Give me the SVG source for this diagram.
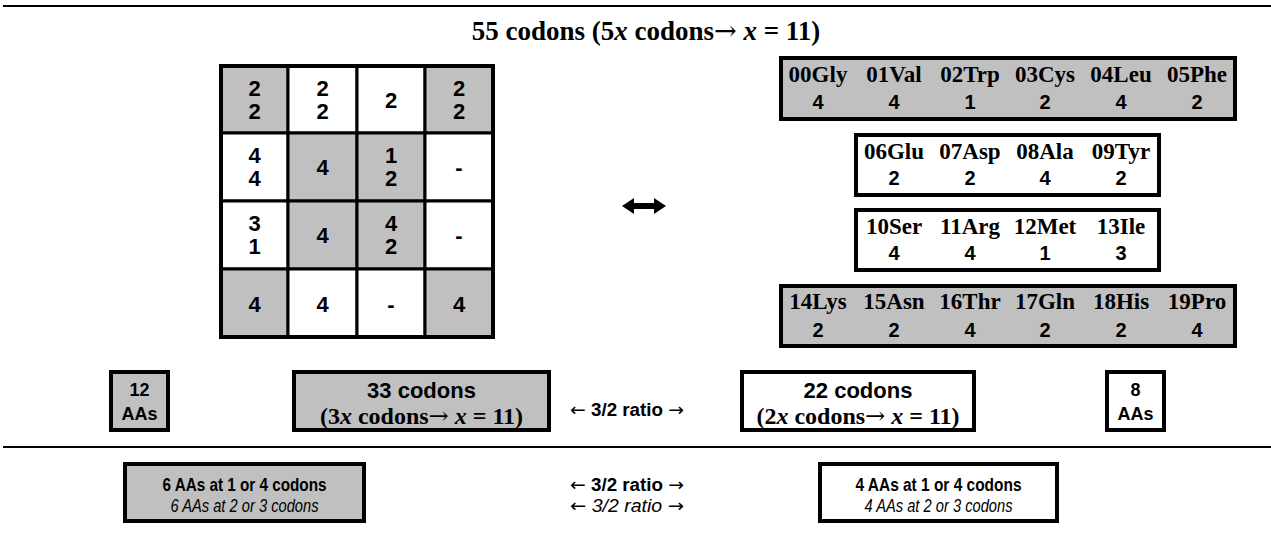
<svg xmlns="http://www.w3.org/2000/svg" width="1271" height="536" viewBox="0 0 1271 536">
  <style>
    .bg { fill: #ffffff; }
    .rule { stroke: #000; stroke-width: 2; }
    .box { stroke: #000; stroke-width: 4; }
    .cell { stroke: #000; stroke-width: 3; }
    .grey { fill: #c0c0c0; }
    .white { fill: #ffffff; }
    .serif { font-family: "Liberation Serif", "Times New Roman", serif; font-weight: bold; fill: #000; }
    .sans { font-family: "Liberation Sans", Arial, sans-serif; font-weight: bold; fill: #000; }
    .plain { font-weight: normal; }
    .it { font-style: italic; }
    .arr { font-family: "DejaVu Sans", sans-serif; font-weight: normal; }
    .arrs { font-family: "DejaVu Serif", serif; font-weight: normal; }
    .num { font-size: 20px; }
    .aa { font-size: 23px; }
    .mid { text-anchor: middle; }
  </style>
  <rect class="bg" x="0" y="0" width="1271" height="536"/>

  <!-- rules -->
  <line class="rule" x1="3" y1="6" x2="1271" y2="6"/>
  <line class="rule" x1="3" y1="447" x2="1271" y2="447"/>

  <!-- heading -->
  <text class="serif mid" x="646" y="40" font-size="27">55 codons (5<tspan class="it">x</tspan> codons<tspan class="arrs">→</tspan> <tspan class="it">x</tspan> = 11)</text>

  <!-- 4x4 codon grid -->
  <g id="grid" class="sans mid" font-size="22">
    <g id="r0c0"><rect class="cell grey" x="221" y="66" width="67" height="67"/><text x="254.5" y="96">2</text><text x="254.5" y="119">2</text></g>
    <g id="r0c1"><rect class="cell white" x="288" y="66" width="69" height="67"/><text x="322.5" y="96">2</text><text x="322.5" y="119">2</text></g>
    <g id="r0c2"><rect class="cell white" x="357" y="66" width="68" height="67"/><text x="391" y="108">2</text></g>
    <g id="r0c3"><rect class="cell grey" x="425" y="66" width="68" height="67"/><text x="459" y="96">2</text><text x="459" y="119">2</text></g>

    <g id="r1c0"><rect class="cell white" x="221" y="133" width="67" height="68"/><text x="254.5" y="163">4</text><text x="254.5" y="186">4</text></g>
    <g id="r1c1"><rect class="cell grey" x="288" y="133" width="69" height="68"/><text x="322.5" y="175">4</text></g>
    <g id="r1c2"><rect class="cell grey" x="357" y="133" width="68" height="68"/><text x="391" y="163">1</text><text x="391" y="186">2</text></g>
    <g id="r1c3"><rect class="cell white" x="425" y="133" width="68" height="68"/><text x="459" y="175">-</text></g>

    <g id="r2c0"><rect class="cell white" x="221" y="201" width="67" height="68"/><text x="254.5" y="231">3</text><text x="254.5" y="254">1</text></g>
    <g id="r2c1"><rect class="cell grey" x="288" y="201" width="69" height="68"/><text x="322.5" y="243">4</text></g>
    <g id="r2c2"><rect class="cell grey" x="357" y="201" width="68" height="68"/><text x="391" y="231">4</text><text x="391" y="254">2</text></g>
    <g id="r2c3"><rect class="cell white" x="425" y="201" width="68" height="68"/><text x="459" y="243">-</text></g>

    <g id="r3c0"><rect class="cell grey" x="221" y="269" width="67" height="68"/><text x="254.5" y="312">4</text></g>
    <g id="r3c1"><rect class="cell white" x="288" y="269" width="69" height="68"/><text x="322.5" y="312">4</text></g>
    <g id="r3c2"><rect class="cell white" x="357" y="269" width="68" height="68"/><text x="391" y="312">-</text></g>
    <g id="r3c3"><rect class="cell grey" x="425" y="269" width="68" height="68"/><text x="459" y="312">4</text></g>

    <rect x="221" y="66" width="272" height="271" fill="none" stroke="#000" stroke-width="4"/>
  </g>

  <!-- amino acid rows -->
  <g id="aa-row1">
    <rect class="box grey" x="781" y="58" width="454" height="61"/>
    <g class="serif aa mid">
      <text x="818" y="82">00Gly</text><text x="894" y="82">01Val</text><text x="970" y="82">02Trp</text>
      <text x="1045" y="82">03Cys</text><text x="1121" y="82">04Leu</text><text x="1197" y="82">05Phe</text>
    </g>
    <g class="sans num mid">
      <text x="818" y="109">4</text><text x="894" y="109">4</text><text x="970" y="109">1</text>
      <text x="1045" y="109">2</text><text x="1121" y="109">4</text><text x="1197" y="109">2</text>
    </g>
  </g>
  <g id="aa-row2">
    <rect class="box white" x="856" y="135" width="303" height="60"/>
    <g class="serif aa mid">
      <text x="894" y="159">06Glu</text><text x="970" y="159">07Asp</text><text x="1045" y="159">08Ala</text><text x="1121" y="159">09Tyr</text>
    </g>
    <g class="sans num mid">
      <text x="894" y="185">2</text><text x="970" y="185">2</text><text x="1045" y="185">4</text><text x="1121" y="185">2</text>
    </g>
  </g>
  <g id="aa-row3">
    <rect class="box white" x="856" y="210" width="303" height="60"/>
    <g class="serif aa mid">
      <text x="894" y="234">10Ser</text><text x="970" y="234">11Arg</text><text x="1045" y="234">12Met</text><text x="1121" y="234">13Ile</text>
    </g>
    <g class="sans num mid">
      <text x="894" y="260">4</text><text x="970" y="260">4</text><text x="1045" y="260">1</text><text x="1121" y="260">3</text>
    </g>
  </g>
  <g id="aa-row4">
    <rect class="box grey" x="781" y="286" width="454" height="60"/>
    <g class="serif aa mid">
      <text x="818" y="309">14Lys</text><text x="894" y="309">15Asn</text><text x="970" y="309">16Thr</text>
      <text x="1045" y="309">17Gln</text><text x="1121" y="309">18His</text><text x="1197" y="309">19Pro</text>
    </g>
    <g class="sans num mid">
      <text x="818" y="337">2</text><text x="894" y="337">2</text><text x="970" y="337">4</text>
      <text x="1045" y="337">2</text><text x="1121" y="337">2</text><text x="1197" y="337">4</text>
    </g>
  </g>

  <!-- connectors -->
  <g id="connectors">
    <path d="M622,206 L634,198 L634,203 L654,203 L654,198 L666,206 L654,214 L654,209 L634,209 L634,214 Z" fill="#000"/>
  </g>

  <!-- totals row -->
  <g id="aas-12">
    <rect class="box grey" x="111" y="372" width="57" height="58"/>
    <text class="sans mid" font-size="18" x="139.5" y="396">12</text>
    <text class="sans mid" font-size="18" x="139.5" y="420">AAs</text>
  </g>
  <g id="codons-33">
    <rect class="box grey" x="294" y="372" width="255" height="58"/>
    <text class="sans mid" font-size="22" x="421.5" y="398">33 codons</text>
    <text class="serif mid" font-size="24" x="421.5" y="424">(3<tspan class="it">x</tspan> codons<tspan class="arrs">→</tspan> <tspan class="it">x</tspan> = 11)</text>
  </g>
  <text id="ratio-top" class="sans mid" font-size="18" x="627" y="416" textLength="114" lengthAdjust="spacingAndGlyphs"><tspan class="arr">←</tspan> 3/2 ratio <tspan class="arr">→</tspan></text>
  <g id="codons-22">
    <rect class="box white" x="742" y="372" width="232" height="58"/>
    <text class="sans mid" font-size="22" x="858" y="398">22 codons</text>
    <text class="serif mid" font-size="24" x="858" y="424">(2<tspan class="it">x</tspan> codons<tspan class="arrs">→</tspan> <tspan class="it">x</tspan> = 11)</text>
  </g>
  <g id="aas-8">
    <rect class="box white" x="1107" y="372" width="57" height="58"/>
    <text class="sans mid" font-size="18" x="1135.5" y="396">8</text>
    <text class="sans mid" font-size="18" x="1135.5" y="420">AAs</text>
  </g>

  <!-- bottom row -->
  <g id="aas-6">
    <rect class="box grey" x="125" y="464" width="239" height="57"/>
    <text class="sans mid" font-size="19" x="244.5" y="491" textLength="164" lengthAdjust="spacingAndGlyphs">6 AAs at 1 or 4 codons</text>
    <text class="sans plain it mid" font-size="18" x="244.5" y="512" textLength="148" lengthAdjust="spacingAndGlyphs">6 AAs at 2 or 3 codons</text>
  </g>
  <g id="ratio-bottom">
    <text class="sans mid" font-size="18" x="627" y="491" textLength="114" lengthAdjust="spacingAndGlyphs"><tspan class="arr">←</tspan> 3/2 ratio <tspan class="arr">→</tspan></text>
    <text class="sans plain it mid" font-size="18" x="627" y="512" textLength="114" lengthAdjust="spacingAndGlyphs"><tspan class="arr">←</tspan> 3/2 ratio <tspan class="arr">→</tspan></text>
  </g>
  <g id="aas-4">
    <rect class="box white" x="820" y="464" width="237" height="57"/>
    <text class="sans mid" font-size="19" x="938.5" y="491" textLength="166" lengthAdjust="spacingAndGlyphs">4 AAs at 1 or 4 codons</text>
    <text class="sans plain it mid" font-size="18" x="938.5" y="512" textLength="148" lengthAdjust="spacingAndGlyphs">4 AAs at 2 or 3 codons</text>
  </g>
</svg>
